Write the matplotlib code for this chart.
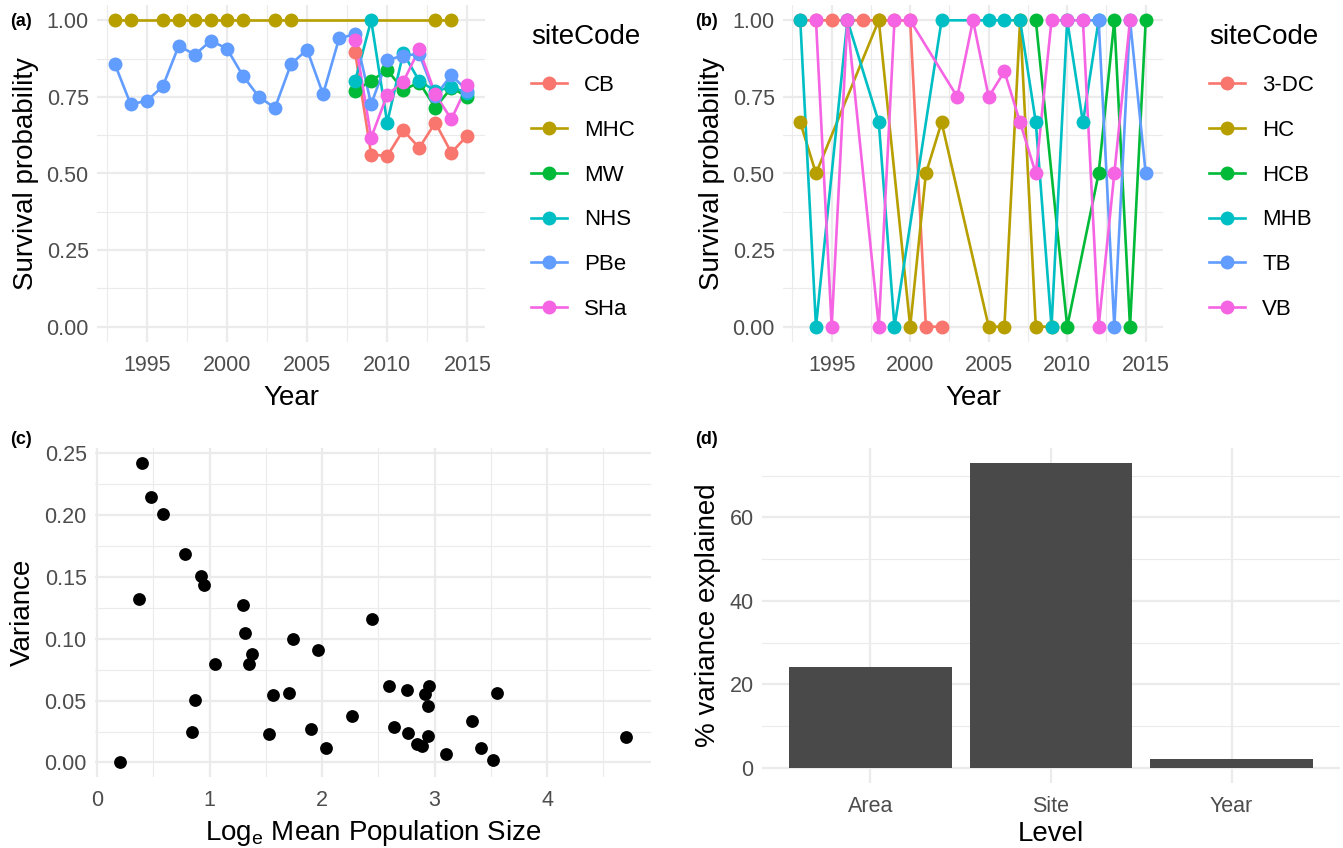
import numpy as np
import matplotlib
matplotlib.use("Agg")
import matplotlib.pyplot as plt
from matplotlib.lines import Line2D

plt.rcParams['font.family'] = ['Liberation Sans', 'DejaVu Sans']

W, H = 1343, 848

# ---- data ----
hue = ['#F8766D', '#B79F00', '#00BA38', '#00BFC4', '#619CFF', '#F564E3']

# panel (a)
sites_a = ['CB', 'MHC', 'MW', 'NHS', 'PBe', 'SHa']
years_a = {
    'CB': [2008, 2009, 2010, 2011, 2012, 2013, 2014, 2015],
    'MHC': [1993, 1994, 1996, 1997, 1998, 1999, 2000, 2001, 2003, 2004, 2013, 2014],
    'MW': [2008, 2009, 2010, 2011, 2012, 2013, 2014, 2015],
    'NHS': [2008, 2009, 2010, 2011, 2012, 2013, 2014, 2015],
    'PBe': list(range(1993, 2016)),
    'SHa': [2008, 2009, 2010, 2011, 2012, 2013, 2014, 2015],
}
surv_a = {
    'CB': [0.895, 0.562, 0.557, 0.641, 0.584, 0.666, 0.568, 0.624],
    'MHC': [1.0] * 12,
    'MW': [0.770, 0.802, 0.838, 0.773, 0.797, 0.715, 0.780, 0.751],
    'NHS': [0.802, 1.0, 0.666, 0.893, 0.802, 0.770, 0.781, 0.764],
    'PBe': [0.859, 0.726, 0.737, 0.784, 0.917, 0.888, 0.933, 0.908, 0.819, 0.750,
            0.714, 0.857, 0.904, 0.759, 0.941, 0.955, 0.726, 0.870, 0.885, 0.890,
            0.753, 0.821, 0.770],
    'SHa': [0.937, 0.617, 0.757, 0.799, 0.906, 0.759, 0.677, 0.788],
}

# panel (b)
sites_b = ['3-DC', 'HC', 'HCB', 'MHB', 'TB', 'VB']
years_b = {
    '3-DC': [1993, 1994, 1995, 1996, 1997, 1998, 1999, 2000, 2001, 2002],
    'HC': [1993, 1994, 1998, 2000, 2001, 2002, 2005, 2006, 2007, 2008, 2009],
    'HCB': [2008, 2010, 2012, 2013, 2014, 2015],
    'MHB': [1993, 1994, 1996, 1998, 1999, 2002, 2005, 2006, 2007, 2008, 2009, 2010, 2011, 2012],
    'TB': [2011, 2012, 2013, 2014, 2015],
    'VB': [1994, 1995, 1996, 1998, 1999, 2000, 2003, 2004, 2005, 2006, 2007, 2008,
           2009, 2010, 2011, 2012, 2013, 2014],
}
surv_b = {
    '3-DC': [1, 1, 1, 1, 1, 1, 1, 1, 0, 0],
    'HC': [0.667, 0.5, 1, 0, 0.5, 0.667, 0, 0, 1, 0, 0],
    'HCB': [1, 0, 0.5, 1, 0, 1],
    'MHB': [1, 0, 1, 0.667, 0, 1, 1, 1, 1, 0.667, 0, 1, 0.667, 1],
    'TB': [1, 1, 0, 1, 0.5],
    'VB': [1, 0, 1, 0, 1, 1, 0.75, 1, 0.75, 0.833, 0.667, 0.5, 1, 1, 1, 0, 0.5, 1],
}

# panel (c)
log_mean_pop = [0.402, 0.481, 0.586, 0.779, 0.925, 0.947, 0.370, 1.301, 1.317, 2.441,
                1.738, 1.966, 1.381, 1.349, 1.051, 2.593, 2.951, 2.752, 2.916, 3.553,
                1.710, 1.564, 0.871, 2.945, 2.264, 3.331, 1.903, 2.641, 0.845, 1.526,
                2.761, 2.945, 4.699, 2.846, 2.888, 2.036, 3.414, 3.100, 3.521, 0.206]
variance = [0.2422, 0.2147, 0.2006, 0.1685, 0.1505, 0.1437, 0.1324, 0.1270, 0.1049, 0.1162,
            0.0998, 0.0911, 0.0879, 0.0798, 0.0798, 0.0618, 0.0618, 0.0588, 0.0550, 0.0564,
            0.0564, 0.0542, 0.0504, 0.0453, 0.0372, 0.0332, 0.0272, 0.0283, 0.0243, 0.0232,
            0.0237, 0.0216, 0.0208, 0.0146, 0.0129, 0.0113, 0.0119, 0.0067, 0.0016, 0.0003]

# panel (d)
levels = ['Area', 'Site', 'Year']
pct_var = [24.2, 73.0, 2.1]

# ---- style ----
tick_col = '#4D4D4D'
grid_col = '#EBEBEB'
tick_fs = 15.5
title_fs = 20


def ax_px(l, t, r, b):
    return fig.add_axes([l / W, 1 - b / H, (r - l) / W, (b - t) / H])


def minimal(ax):
    for s in ax.spines.values():
        s.set_visible(False)
    ax.set_axisbelow(True)
    ax.grid(True, which='major', color=grid_col, lw=1.6)
    ax.grid(True, which='minor', color=grid_col, lw=0.8)
    ax.tick_params(which='both', length=0, labelsize=tick_fs, labelcolor=tick_col, pad=6)
    ax.tick_params(axis='x', which='both', pad=9.5)


fig = plt.figure(figsize=(W / 100, H / 100), dpi=100)


def survival_panel(ax, sites, years, surv, legend_x):
    for i, s in enumerate(sites):
        ax.plot(years[s], surv[s], color=hue[i], lw=1.9, zorder=2)
    for i, s in enumerate(sites):
        ax.plot(years[s], surv[s], 'o', color=hue[i], ms=9, zorder=3)
    ax.set_xlim(1991.9, 2016.1)
    ax.set_ylim(-0.05, 1.05)
    ax.set_xticks([1995, 2000, 2005, 2010, 2015])
    ax.set_xticks([1992.5, 1997.5, 2002.5, 2007.5, 2012.5], minor=True)
    ax.set_yticks([0, 0.25, 0.5, 0.75, 1.0])
    ax.set_yticklabels(['0.00', '0.25', '0.50', '0.75', '1.00'])
    ax.set_yticks([0.125, 0.375, 0.625, 0.875], minor=True)
    minimal(ax)
    ax.set_xlabel('Year', fontsize=title_fs, labelpad=6)
    ax.set_ylabel('Survival probability', fontsize=title_fs, labelpad=5)
    handles = [Line2D([], [], color=hue[i], lw=1.9, marker='o', ms=9) for i in range(len(sites))]
    leg = ax.legend(handles, sites, title='siteCode', frameon=False, fontsize=16,
                    title_fontsize=title_fs, alignment='left',
                    loc='upper left', bbox_to_anchor=(legend_x / W, 1 - 24 / H),
                    bbox_transform=fig.transFigure, borderpad=0, borderaxespad=0,
                    handlelength=1.6, handletextpad=0.8, labelspacing=1.07)
    leg._legend_box.sep = 18


ax_a = ax_px(97, 5, 485, 342)
survival_panel(ax_a, sites_a, years_a, surv_a, 531)

ax_b = ax_px(783, 5, 1163, 342)
survival_panel(ax_b, sites_b, years_b, surv_b, 1209)

# panel (c)
ax_c = ax_px(95, 448, 651, 777)
ax_c.scatter(log_mean_pop, variance, s=85, color='black', zorder=3, linewidths=0)
ax_c.set_xlim(-0.019, 4.924)
ax_c.set_ylim(-0.0118, 0.2543)
ax_c.set_xticks([0, 1, 2, 3, 4])
ax_c.set_xticks([0.5, 1.5, 2.5, 3.5, 4.5], minor=True)
ax_c.set_yticks([0, 0.05, 0.10, 0.15, 0.20, 0.25])
ax_c.set_yticklabels(['0.00', '0.05', '0.10', '0.15', '0.20', '0.25'])
ax_c.set_yticks([0.025, 0.075, 0.125, 0.175, 0.225], minor=True)
minimal(ax_c)
ax_c.set_xlabel(r'Log$_{\mathregular{e}}$ Mean Population Size', fontsize=title_fs, labelpad=5)
ax_c.set_ylabel('Variance', fontsize=title_fs, labelpad=6)

# panel (d)
ax_d = ax_px(762, 448, 1340, 783)
xpos = np.arange(1, len(levels) + 1)
ax_d.bar(xpos, pct_var, width=0.9, color='#494949', zorder=3)
ax_d.set_xlim(0.4, 3.6)
ax_d.set_ylim(-3.65, 76.65)
ax_d.set_xticks(xpos)
ax_d.set_xticklabels(levels)
ax_d.set_yticks([0, 20, 40, 60])
ax_d.set_yticks([10, 30, 50, 70], minor=True)
minimal(ax_d)
ax_d.set_xlabel('Level', fontsize=title_fs, labelpad=3)
ax_d.set_ylabel('% variance explained', fontsize=title_fs, labelpad=6)

# panel tags
for tag, x, y in [('(a)', 10, 21), ('(b)', 695, 21), ('(c)', 10, 439), ('(d)', 695, 439)]:
    fig.text(x / W, 1 - y / H, tag, fontsize=13, fontweight='bold', va='center', ha='left')

fig.savefig('out.png', dpi=100)
